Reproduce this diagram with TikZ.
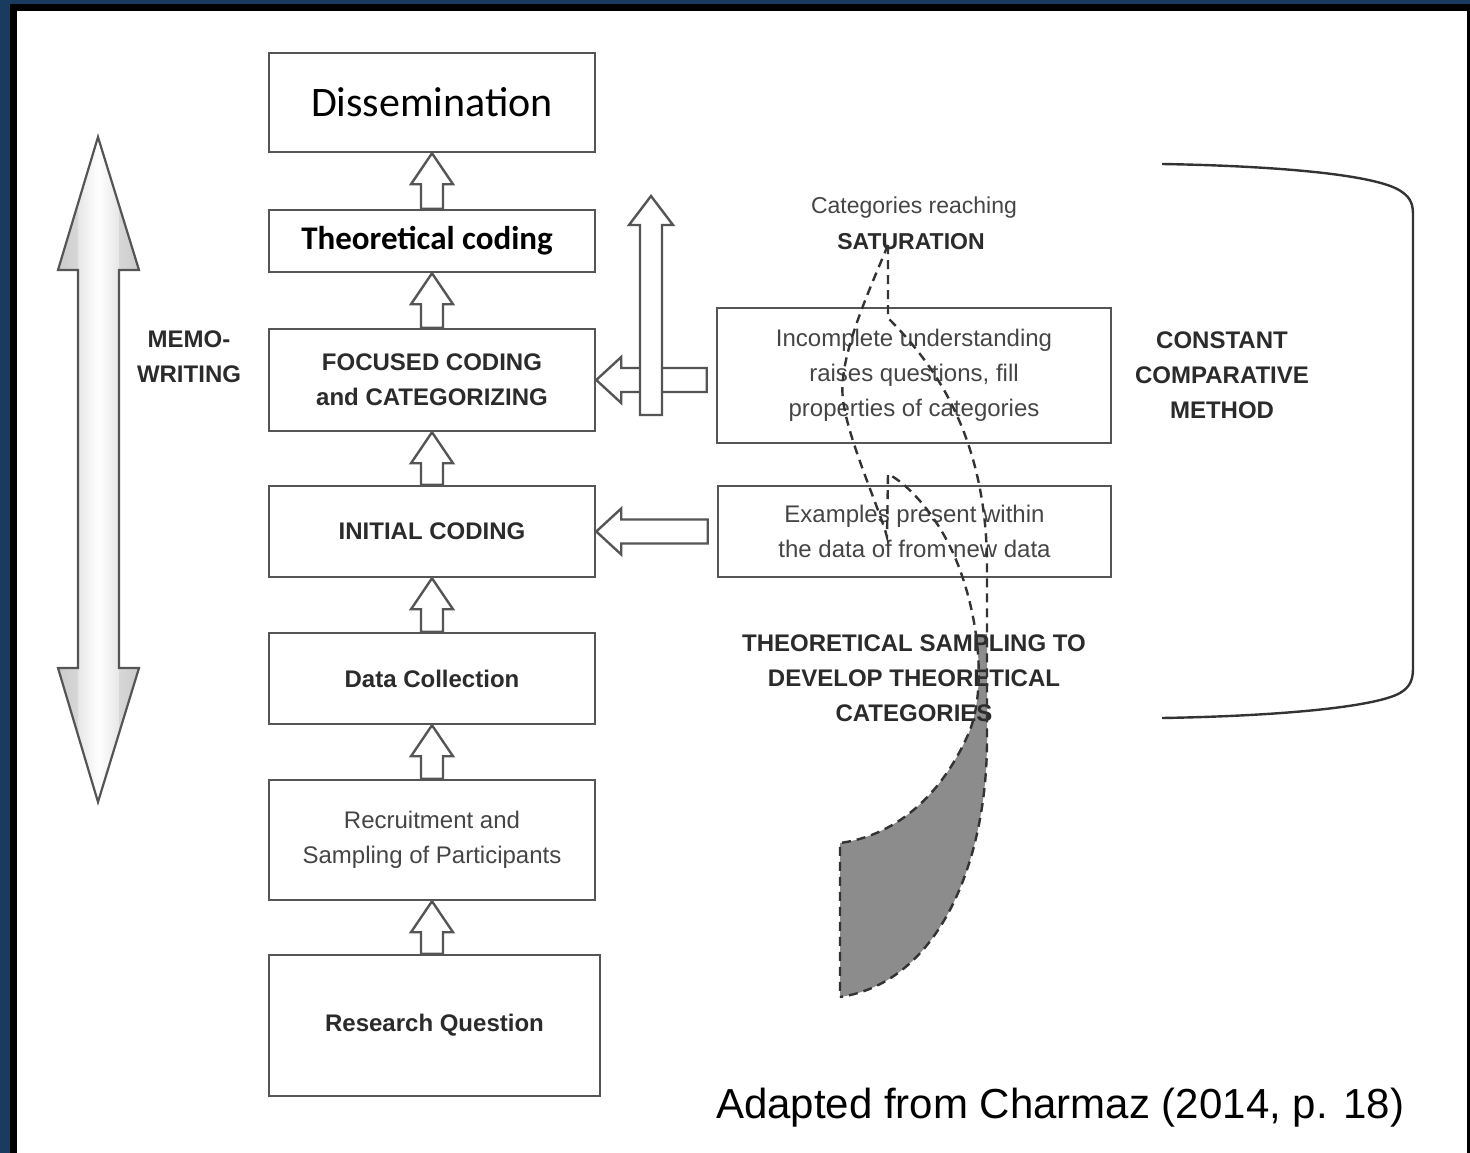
\documentclass[tikz,border=0pt]{standalone}
\usepackage{fontspec}
\setmainfont{Liberation Sans}
\newfontfamily\calibri{Carlito}
\usetikzlibrary{calc}
\definecolor{framenavy}{HTML}{1A3B60}
\definecolor{inkline}{HTML}{555555}
\definecolor{inkbold}{HTML}{2B2B2B}
\definecolor{inkreg}{HTML}{454545}
\definecolor{ribbonfill}{HTML}{8C8C8C}
\definecolor{ribbonline}{HTML}{333333}

% hollow block arrow pointing up from the top of #1 to the bottom of #2
\newcommand\stageup[2]{%
  \draw[blockarrow] let \p1=(#2.south), \p2=(#1.north) in
    (\x1,\y1) -- (\x1+21pt,\y1-31pt) -- (\x1+11pt,\y1-31pt) -- (\x1+11pt,\y2)
    -- (\x1-11pt,\y2) -- (\x1-11pt,\y1-31pt) -- (\x1-21pt,\y1-31pt) -- cycle;}
% hollow block arrow pointing left from box #1 into box #2
\newcommand\feedleft[2]{%
  \draw[blockarrow] let \p1=(#2.east), \p2=(#1.west) in
    (\x1,\y1) -- (\x1+25pt,\y1+23pt) -- (\x1+25pt,\y1+12pt) -- (\x2-9pt,\y1+12pt)
    -- (\x2-9pt,\y1-12pt) -- (\x1+25pt,\y1-12pt) -- (\x1+25pt,\y1-23pt) -- cycle;}

\begin{document}
\begin{tikzpicture}[x=1pt,y=-1pt,
  stage/.style={draw=inkline, line width=2.5pt, fill=white, inner sep=0pt,
    minimum width=326pt, align=center},
  blockarrow/.style={draw=inkline, line width=2.4pt, fill=white, line join=miter},
  capsb/.style={font=\bfseries\fontsize{24}{35}\selectfont, text=inkbold,
    align=center, inner sep=0pt},
  plain/.style={font=\fontsize{24}{35}\selectfont, text=inkreg,
    align=center, inner sep=0pt},
  ribbon/.style={draw=ribbonline, line width=2.4pt, dash pattern=on 9pt off 6pt},
]
\useasboundingbox (0,0) rectangle (1470,1153);

% slide frame
\fill[framenavy] (0,0) rectangle (1470,1153);
\fill[black] (10,4) rectangle (1470,1153);
\fill[white] (17,11) rectangle (1467,1153);

% memo-writing double arrow
\path[left color=gray!38, right color=gray!38, middle color=white]
  (98,137) -- (139,270) -- (119,270) -- (119,668) -- (139,668) -- (98,802)
  -- (58,668) -- (78,668) -- (78,270) -- (58,270) -- cycle;
\fill[gray!45, opacity=0.45] (58,270) -- (78,270) -- (78,203.5) -- cycle;
\fill[gray!45, opacity=0.45] (139,270) -- (119,270) -- (119,203.5) -- cycle;
\fill[gray!45, opacity=0.45] (58,668) -- (78,668) -- (78,734.5) -- cycle;
\fill[gray!45, opacity=0.45] (139,668) -- (119,668) -- (119,734.5) -- cycle;
\draw[inkline, line width=2.2pt, line join=miter]
  (98,137) -- (139,270) -- (119,270) -- (119,668) -- (139,668) -- (98,802)
  -- (58,668) -- (78,668) -- (78,270) -- (58,270) -- cycle;
\node[capsb] (memo) at (189,357) {MEMO-\\WRITING};

% main process column
\node[stage, minimum height=99pt, font=\calibri\fontsize{42}{50}\selectfont, text=black]
  (diss) at (432,102.5) {Dissemination};
\node[stage, minimum height=62pt, font=\calibri\bfseries\fontsize{33}{40}\selectfont, text=black]
  (theo) at (432,241) {Theoretical coding\hspace*{10pt}};
\node[stage, capsb, minimum height=102pt] (foc) at (432,380) {FOCUSED CODING\\and CATEGORIZING};
\node[stage, capsb, minimum height=91pt] (init) at (432,531.5) {INITIAL CODING};
\node[stage, capsb, minimum height=91pt] (data) at (432,678.5) {Data Collection};
\node[stage, plain, minimum height=120pt] (recr) at (432,840) {Recruitment and\\Sampling of Participants};
\node[stage, capsb, minimum width=331pt, minimum height=141pt] (rq) at (434.5,1025.5) {Research Question};

\stageup{theo}{diss}
\stageup{foc}{theo}
\stageup{init}{foc}
\stageup{data}{init}
\stageup{recr}{data}
\stageup{rq}{recr}

% comparison boxes
\node[stage, plain, minimum width=394pt, minimum height=135pt] (inc) at (914,375.5)
  {Incomplete understanding\\raises questions, fill\\properties of categories};
\node[stage, plain, minimum width=393pt, minimum height=91pt] (ex) at (914.5,531.5)
  {Examples present within\\the data of from new data};

\feedleft{inc}{foc}
\feedleft{ex}{init}

% arrow rising towards saturation
\coordinate (satfoot) at (651,415);
\coordinate (sattip) at (651,196);
\draw[blockarrow] let \p1=(sattip), \p2=(satfoot) in
  (\x1,\y1) -- (\x1+22pt,\y1-29pt) -- (\x1+11pt,\y1-29pt) -- (\x1+11pt,\y2)
  -- (\x1-11pt,\y2) -- (\x1-11pt,\y1-29pt) -- (\x1-22pt,\y1-29pt) -- cycle;

% shaded foot of the sampling ribbon
\begin{scope}
  \clip (800,634) rectangle (1000,1010);
  \fill[ribbonfill] (987,560) -- (987,740) .. controls (987,860) and (940,982) .. (840,997)
    -- (840,843) .. controls (900,835) and (945,790) .. (970,730)
    .. controls (985,690) and (980,625) .. (960,570) -- cycle;
\end{scope}

% labels
\node[plain, font=\fontsize{23}{34}\selectfont] (reach) at (914,208) {Categories reaching};
\node[capsb, font=\bfseries\fontsize{23}{34}\selectfont] (sat) at (911,242) {SATURATION};
\node[capsb] (ccm) at (1222,375) {CONSTANT\\COMPARATIVE\\METHOD};
\node[capsb] (ts) at (914,678) {THEORETICAL SAMPLING TO\\DEVELOP THEORETICAL\\CATEGORIES};

% twisted sampling ribbon
\draw[ribbon] (888,245) .. controls (865,300) and (838,360) .. (843,400)
  .. controls (848,440) and (880,510) .. (887,537) -- (888,474)
  .. controls (905,482) and (940,515) .. (960,570)
  .. controls (980,625) and (985,690) .. (970,730)
  .. controls (945,790) and (900,835) .. (840,843) -- (840,997);
\draw[ribbon] (888,245) -- (888,318) .. controls (930,360) and (985,430) .. (987,560)
  -- (987,740) .. controls (987,860) and (940,982) .. (840,997);

% constant comparative bracket
\draw[black!80, line width=2.4pt] (1162,164) .. controls (1280,166) and (1380,175) .. (1402,192)
  .. controls (1411,198) and (1413,205) .. (1413,215) -- (1413,668)
  .. controls (1413,680) and (1410,687) .. (1400,693)
  .. controls (1375,707) and (1280,716) .. (1162,718);

% source line
\node[font=\fontsize{42}{50}\selectfont, anchor=west, inner sep=0pt] (src) at (716,1108)
  {Adapted from Charmaz (2014, p. 18)};
\end{tikzpicture}
\end{document}
